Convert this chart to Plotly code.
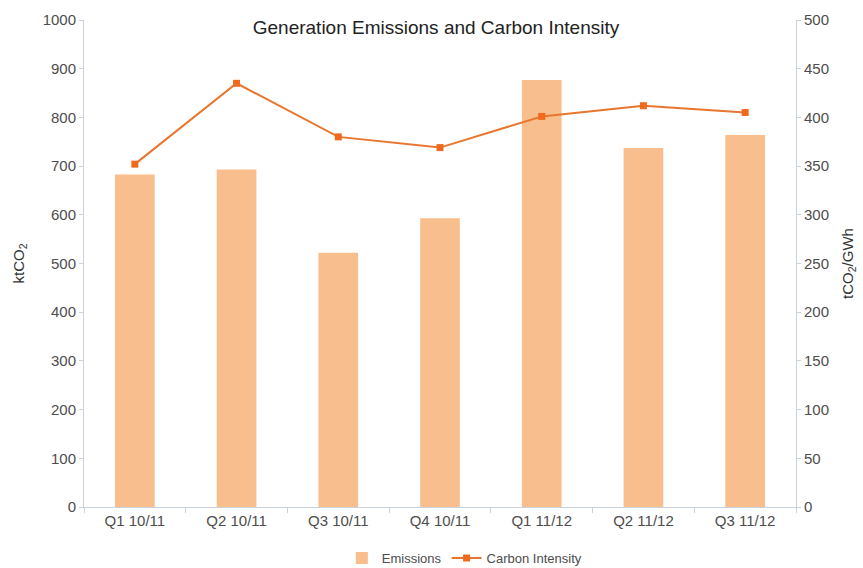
import plotly.graph_objects as go

quarters = ["Q1 10/11", "Q2 10/11", "Q3 10/11", "Q4 10/11", "Q1 11/12", "Q2 11/12", "Q3 11/12"]
emissions = [683, 693, 522, 593, 877, 737, 764]          # ktCO2
carbon_intensity = [352, 435, 380, 369, 401, 412, 405]  # tCO2/GWh

FONT = "Liberation Sans, Arial, sans-serif"
AXIS_COLOR = "#C9D2DC"
TICK_FONT = dict(family=FONT, size=15, color="#4d4d4d")
TITLE_FONT = dict(family=FONT, size=15, color="#333333")

fig = go.Figure()
fig.add_trace(go.Bar(
    x=quarters, y=emissions, name="Emissions",
    marker=dict(color="#F9BE8D", line=dict(width=0)),
    width=0.39, yaxis="y",
))
fig.add_trace(go.Scatter(
    x=quarters, y=carbon_intensity, name="Carbon Intensity",
    mode="lines+markers", yaxis="y2",
    line=dict(color="#E8762F", width=2),
    marker=dict(symbol="square", size=7, color="#F06A1E"),
))

fig.update_layout(
    width=863, height=568,
    margin=dict(l=84, r=67, t=20, b=61, autoexpand=False),
    paper_bgcolor="white", plot_bgcolor="white",
    font=dict(family=FONT, color="#333333"),
    title=dict(text="Generation Emissions and Carbon Intensity",
               x=436 / 863, xanchor="center",
               y=1 - 27 / 568, yanchor="middle",
               font=dict(family=FONT, size=19, color="#222222")),
    bargap=0.6,
    showlegend=True,
    legend=dict(orientation="h", x=461 / 863, xanchor="center",
                yref="container", y=10 / 568, yanchor="middle",
                font=dict(family=FONT, size=13, color="#4d4d4d"),
                itemwidth=30, tracegroupgap=0),
    xaxis=dict(
        showline=True, linecolor=AXIS_COLOR, linewidth=1,
        ticks="outside", tickson="boundaries", ticklen=5, tickcolor=AXIS_COLOR,
        tickfont=TICK_FONT, showgrid=False,
    ),
    yaxis=dict(
        range=[0, 1000], dtick=100, showgrid=False,
        showline=True, linecolor=AXIS_COLOR, linewidth=1,
        ticks="outside", ticklen=4, tickcolor=AXIS_COLOR,
        tickfont=TICK_FONT, zeroline=False,
        title=dict(text="ktCO<sub>2</sub>", font=TITLE_FONT, standoff=14),
    ),
    yaxis2=dict(
        range=[0, 500], dtick=50, overlaying="y", side="right", showgrid=False,
        showline=True, linecolor=AXIS_COLOR, linewidth=1,
        ticks="outside", ticklen=4, tickcolor=AXIS_COLOR,
        tickfont=TICK_FONT, zeroline=False,
        title=dict(text="tCO<sub>2</sub>/GWh", font=TITLE_FONT, standoff=14),
    ),
)

fig.write_html("out.html")
